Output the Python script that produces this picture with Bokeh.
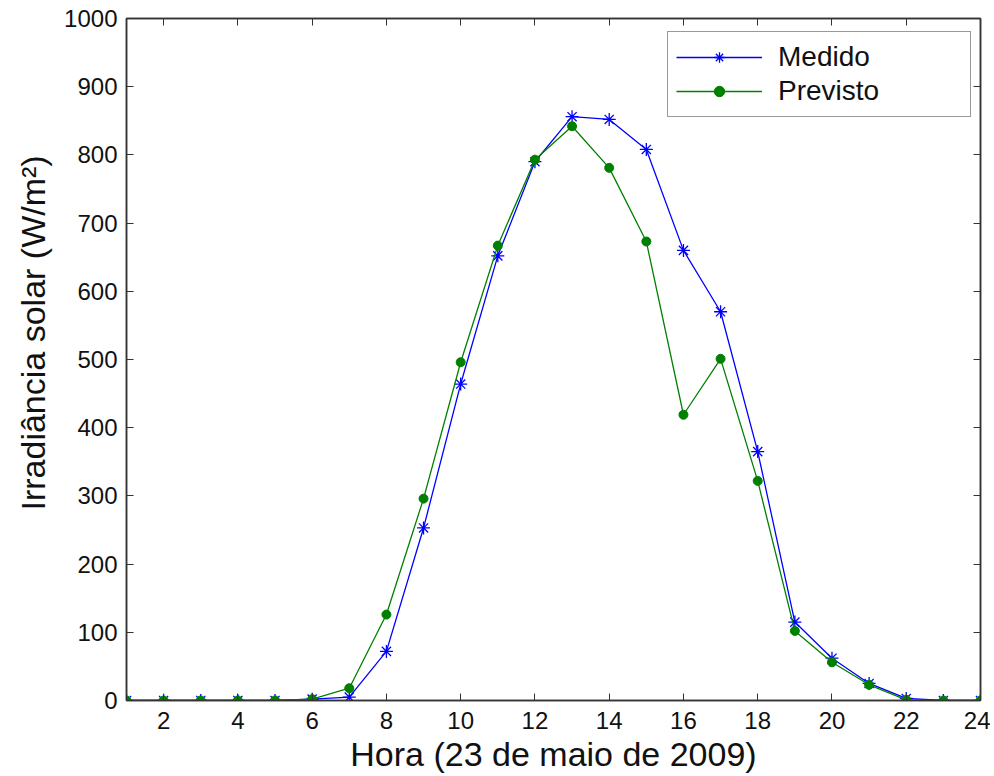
from bokeh.plotting import figure
from bokeh.models import Range1d, LinearAxis, FixedTicker, Legend, LegendItem, Title
from bokeh.embed import file_html
from bokeh.resources import INLINE

hours = list(range(1, 25))
medido = [0, 0, 0, 0, 0, 2, 5, 72, 253, 464, 652, 790, 856, 852, 808, 660,
          570, 365, 115, 62, 25, 3, 0, 0]
previsto = [0, 0, 0, 0, 0, 2, 18, 126, 296, 496, 667, 793, 842, 781, 673, 419,
            501, 322, 102, 56, 23, 1, 0, 0]
x_ticks = list(range(2, 25, 2))
y_ticks = list(range(0, 1001, 100))

FONT = "Liberation Sans"
AX = "#333333"

p = figure(width=990, height=776, output_backend="svg", toolbar_location=None,
           x_range=Range1d(1, 24), y_range=Range1d(0, 1000),
           min_border_left=126, min_border_top=18, min_border_right=10,
           min_border_bottom=76)
p.background_fill_color = "white"
p.border_fill_color = "white"
p.outline_line_color = AX
p.outline_line_width = 1.5
p.xgrid.visible = False
p.ygrid.visible = False

for ax, ticks in ((p.xaxis[0], x_ticks), (p.yaxis[0], y_ticks)):
    ax.ticker = FixedTicker(ticks=ticks)
    ax.major_tick_in = 7
    ax.major_tick_out = 0
    ax.minor_tick_line_color = None
    ax.axis_line_color = AX
    ax.axis_line_width = 1.5
    ax.major_tick_line_color = AX
    ax.major_label_text_font = FONT
    ax.major_label_text_font_size = "24px"
    ax.major_label_text_color = "#111111"
    ax.axis_label_text_font = FONT
    ax.axis_label_text_font_size = "34px"
    ax.axis_label_text_font_style = "normal"
    ax.axis_label_text_color = "#111111"

p.xaxis[0].axis_label = "Hora (23 de maio de 2009)"
p.xaxis[0].major_label_standoff = 11
p.xaxis[0].axis_label_standoff = 3
p.yaxis[0].major_label_standoff = 9

ytitle = Title(text="Irradiância solar (W/m²)", align="left", offset=190,
               text_font=FONT, text_font_size="34px", text_font_style="normal",
               text_color="#111111", standoff=20)
p.add_layout(ytitle, "left")

top = LinearAxis(ticker=FixedTicker(ticks=x_ticks))
right = LinearAxis(ticker=FixedTicker(ticks=y_ticks))
for ax in (top, right):
    ax.major_tick_in = 7
    ax.major_tick_out = 0
    ax.minor_tick_line_color = None
    ax.axis_line_color = AX
    ax.axis_line_width = 1.5
    ax.major_tick_line_color = AX
    ax.major_label_text_font_size = "0px"
    ax.major_label_text_color = None
    ax.major_label_standoff = 0
p.add_layout(top, "above")
p.add_layout(right, "right")

BLUE = "#0000FF"
GREEN = "#008000"
l1 = p.line(hours, medido, line_color=BLUE, line_width=1.3)
s1 = p.scatter(hours, medido, marker="asterisk", size=13, line_color=BLUE,
               line_width=1.3)
l2 = p.line(hours, previsto, line_color=GREEN, line_width=1.3)
s2 = p.scatter(hours, previsto, marker="circle", size=9, fill_color=GREEN,
               line_color=GREEN)

legend = Legend(items=[LegendItem(label="Medido", renderers=[l1, s1]),
                       LegendItem(label="Previsto", renderers=[l2, s2])],
                location=(541, 583))
legend.border_line_color = AX
legend.border_line_width = 1.5
legend.background_fill_color = "white"
legend.background_fill_alpha = 1
legend.label_text_font = FONT
legend.label_text_font_size = "28px"
legend.label_text_color = "#111111"
legend.padding = 8
legend.spacing = 0
legend.margin = 0
legend.glyph_width = 86
legend.glyph_height = 26
legend.label_height = 34
legend.label_width = 184
legend.label_standoff = 16
p.add_layout(legend, "center")

open("out.html", "w").write(file_html(p, INLINE))
